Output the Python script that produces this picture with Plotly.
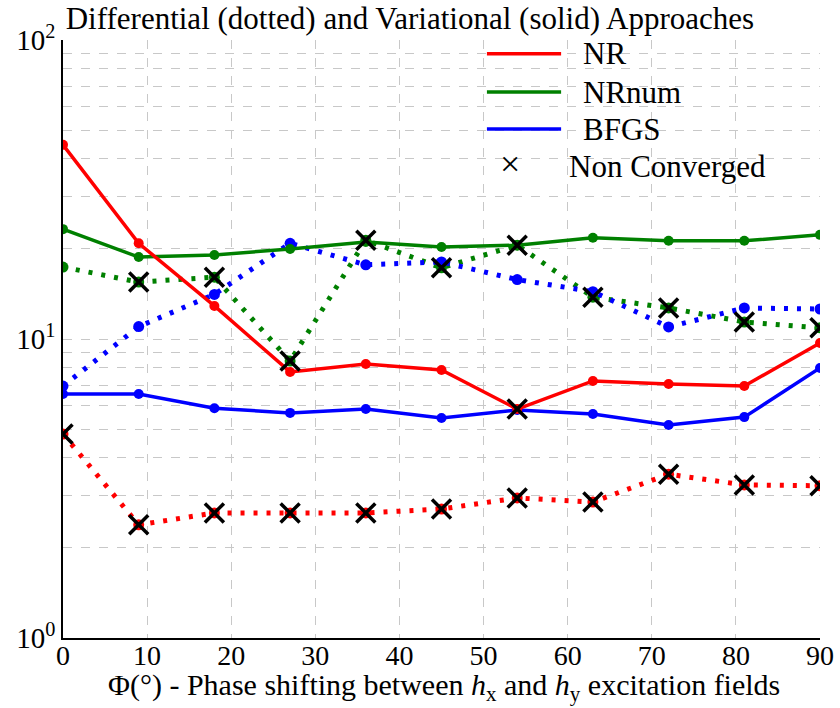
import plotly.graph_objects as go

# ---- data ----
phi = [0, 9, 18, 27, 36, 45, 54, 63, 72, 81, 90]

nr_var = [44.6, 20.9, 12.9, 7.76, 8.25, 7.88, 5.83, 7.24, 7.07, 6.96, 9.7]
nrnum_var = [23.3, 18.8, 19.1, 20.0, 21.1, 20.3, 20.6, 21.8, 21.3, 21.3, 22.3]
bfgs_var = [6.55, 6.55, 5.87, 5.66, 5.83, 5.44, 5.79, 5.61, 5.16, 5.48, 8.0]

nr_diff = [4.81, 2.39, 2.62, 2.62, 2.62, 2.70, 2.94, 2.85, 3.53, 3.25, 3.23]
nrnum_diff = [17.4, 15.5, 16.1, 8.44, 21.4, 17.3, 20.6, 13.8, 12.7, 11.4, 10.9]
bfgs_diff = [6.96, 11.0, 14.1, 20.9, 17.7, 18.1, 15.8, 14.4, 10.97, 12.7, 12.6]

# non-converged flags (1 = not converged)
nr_var_nc = [0, 0, 0, 0, 0, 0, 1, 0, 0, 0, 0]
nr_diff_nc = [1, 1, 1, 1, 1, 1, 1, 1, 1, 1, 1]
nrnum_diff_nc = [0, 1, 1, 1, 1, 1, 1, 1, 1, 1, 1]

series_names = ["NR", "NRnum", "BFGS"]
nc_label = "Non Converged"
title_text = "Differential (dotted) and Variational (solid) Approaches"
xlabel_text = "Φ(°) - Phase shifting between <i>h</i><sub>x</sub> and <i>h</i><sub>y</sub> excitation fields"

x_ticks = [0, 10, 20, 30, 40, 50, 60, 70, 80, 90]
y_major = [1, 10, 100]
y_major_text = ["10<sup>0</sup>", "10<sup>1</sup>", "10<sup>2</sup>"]
y_minor = [2, 3, 4, 5, 6, 7, 8, 9, 20, 30, 40, 50, 60, 70, 80, 90]

RED, GREEN, BLUE = "#ff0000", "#008000", "#0000ff"
FONT = "Liberation Serif"
GRID = "#c8c8c8"

fig = go.Figure()

# dotted (differential)
for ys, c in [(nr_diff, RED), (nrnum_diff, GREEN), (bfgs_diff, BLUE)]:
    fig.add_trace(go.Scatter(x=phi, y=ys, mode="lines+markers",
                             line=dict(color=c, width=5, dash="4px,9px"),
                             marker=dict(color=c, size=11),
                             showlegend=False, hoverinfo="skip"))
# solid (variational)
for ys, c in [(nrnum_var, GREEN), (bfgs_var, BLUE), (nr_var, RED)]:
    fig.add_trace(go.Scatter(x=phi, y=ys, mode="lines+markers",
                             line=dict(color=c, width=3.5),
                             marker=dict(color=c, size=10),
                             showlegend=False, hoverinfo="skip"))

# non converged markers
nc_x, nc_y = [], []
for ys, flags in [(nr_var, nr_var_nc), (nr_diff, nr_diff_nc), (nrnum_diff, nrnum_diff_nc)]:
    for xv, yv, f in zip(phi, ys, flags):
        if f:
            nc_x.append(xv)
            nc_y.append(yv)
fig.add_trace(go.Scatter(x=nc_x, y=nc_y, mode="markers",
                         marker=dict(symbol="x-thin-open", size=19, color="black",
                                     line=dict(color="black", width=3.5)),
                         showlegend=False, hoverinfo="skip"))

# ---- custom legend (paper coordinates) ----
leg_rows = [0.977, 0.913, 0.851, 0.788]
for name, c, yr in zip(series_names, [RED, GREEN, BLUE], leg_rows):
    fig.add_shape(type="line", xref="paper", yref="paper", x0=0.560, x1=0.658,
                  y0=yr, y1=yr, line=dict(color=c, width=3.5))
    fig.add_annotation(xref="paper", yref="paper", x=0.684, y=yr, text=name,
                       showarrow=False, xanchor="left", yanchor="middle",
                       font=dict(family=FONT, size=31, color="black"))
fig.add_annotation(xref="paper", yref="paper", x=0.590, y=leg_rows[3] + 0.004, text="×",
                   showarrow=False, xanchor="center", yanchor="middle",
                   font=dict(family=FONT, size=36, color="black"))
fig.add_annotation(xref="paper", yref="paper", x=0.666, y=leg_rows[3], text=nc_label,
                   showarrow=False, xanchor="left", yanchor="middle",
                   font=dict(family=FONT, size=31, color="black"))

# x-axis label
fig.add_annotation(xref="paper", yref="paper", x=0.503, y=-0.1175, text=xlabel_text,
                   showarrow=False, xanchor="center", yanchor="bottom",
                   font=dict(family=FONT, size=30, color="black"))

fig.update_layout(
    width=840, height=708,
    margin=dict(l=63, r=20, t=40, b=70),
    paper_bgcolor="white", plot_bgcolor="white",
    font=dict(family=FONT, size=29, color="black"),
    title=dict(text=title_text, x=0.488, xanchor="center",
               yref="container", y=0.99, yanchor="top",
               font=dict(family=FONT, size=31)),
    xaxis=dict(range=[0, 90], tickvals=x_ticks, showline=True, linecolor="black",
               linewidth=1.5, zeroline=False, ticks="", tickfont=dict(size=28),
               ticklabelstandoff=-8,
               automargin=False, showgrid=True, gridcolor=GRID, griddash="dash",
               gridwidth=1),
    yaxis=dict(type="log", range=[0, 2], tickmode="array", tickvals=y_major,
               ticktext=y_major_text, showline=True, linecolor="black",
               linewidth=1.5, zeroline=False, ticks="", tickfont=dict(size=29),
               automargin=False, showgrid=True, gridcolor=GRID, griddash="dash",
               gridwidth=1,
               minor=dict(tickmode="array", tickvals=y_minor, showgrid=True,
                          gridcolor=GRID, griddash="dash", gridwidth=1, ticks="")),
    showlegend=False,
)

fig.write_html("out.html")
